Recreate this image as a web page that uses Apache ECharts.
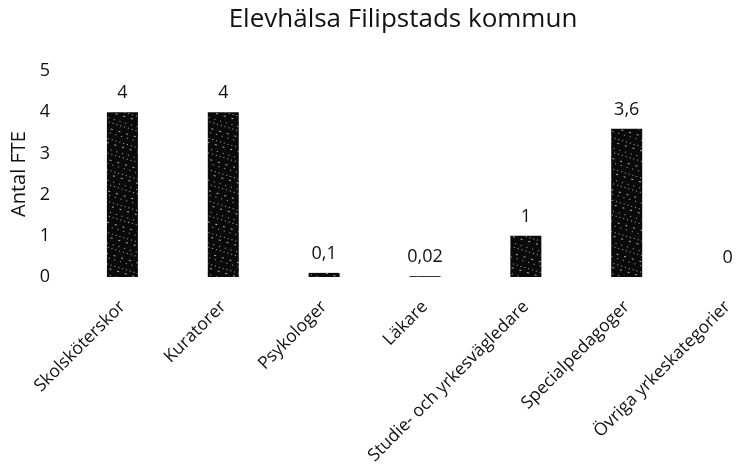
<!DOCTYPE html>
<html>
<head>
<meta charset="utf-8">
<script src="https://cdn.jsdelivr.net/npm/echarts@6/dist/echarts.min.js"></script>
<style>html,body{margin:0;padding:0;background:#fff;}#c{width:736px;height:475px;}</style>
</head>
<body>
<div id="c"></div>
<script>
var categories = ['Skolsköterskor','Kuratorer','Psykologer','Läkare','Studie- och yrkesvägledare','Specialpedagoger','Övriga yrkeskategorier'];
var values = [4, 4, 0.1, 0.02, 1, 3.6, 0];
var titleText = 'Elevhälsa Filipstads kommun';
var yName = 'Antal FTE';

var chart = echarts.init(document.getElementById('c'), null, {renderer:'canvas'});
var font = 'Open Sans';
chart.setOption({
  animation: false,
  backgroundColor: '#fff',
  title: {
    text: titleText, left: 398, top: 2, textAlign: 'center',
    textStyle: {fontFamily: font, fontSize: 26, fontWeight: 'normal', color: '#111'}
  },
  grid: {left: 72, top: 71, width: 706, height: 206, containLabel: false, outerBoundsMode: 'none'},
  xAxis: {
    type: 'category', data: categories,
    axisLine: {show: false}, axisTick: {show: false},
    axisLabel: {rotate: 45, margin: 27, interval: 0, fontFamily: font, fontSize: 17.5, color: '#111'}
  },
  yAxis: {
    type: 'value', min: 0, max: 5, interval: 1,
    name: yName, nameLocation: 'middle', nameGap: 39, nameRotate: 90,
    nameTextStyle: {fontFamily: font, fontSize: 20, color: '#111'},
    axisLine: {show: false}, axisTick: {show: false}, splitLine: {show: false},
    axisLabel: {margin: 22, fontFamily: font, fontSize: 18, color: '#111'}
  },
  series: [{
    type: 'bar', data: values, barWidth: 31,
    itemStyle: {
      color: '#0a0a0a', borderWidth: 0,
      decal: {symbol: 'rect', symbolSize: 0.8, color: 'rgba(255,255,255,0.85)', dashArrayX: [[1, 5], [1, 3], [2, 6]], dashArrayY: [1, 3, 1, 5], rotation: 0.3}
    },
    label: {
      show: true, position: 'top', distance: 10,
      fontFamily: font, fontSize: 18, color: '#111',
      formatter: function (p) { return String(p.value).replace('.', ','); }
    }
  }]
});
</script>
</body>
</html>
